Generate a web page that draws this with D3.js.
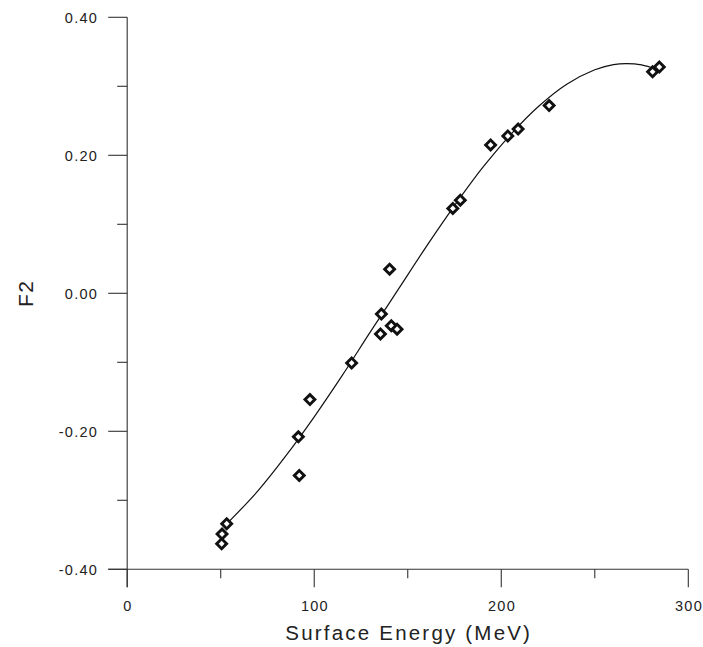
<!DOCTYPE html>
<html>
<head>
<meta charset="utf-8">
<script src="https://cdn.jsdelivr.net/npm/d3@7"></script>
<style>
  html, body { margin: 0; padding: 0; background: #fff; }
  svg { display: block; }
  text { font-family: "Liberation Sans", Arial, sans-serif; fill: #222; }
</style>
</head>
<body>
<svg id="chart" width="703" height="647"></svg>
<script>
// Observed samples: surface energy (MeV) and F2 score
const energy = [50.7, 50.5, 53.2, 91.5, 92.0, 97.7, 120.0, 135.9, 135.4, 140.3, 141.2, 144.3,
                174.1, 178.1, 194.3, 203.5, 209.0, 225.6, 280.9, 284.5];
const f2 = [-0.349, -0.363, -0.334, -0.208, -0.264, -0.154, -0.101, -0.030, -0.059, 0.035, -0.047, -0.052,
            0.123, 0.135, 0.215, 0.228, 0.238, 0.272, 0.321, 0.328];

// Fitted trend line, sampled along its length
const fitEnergy = [54, 70, 85, 100, 115, 130, 145, 160, 175, 190, 205, 220, 235, 250, 260, 267, 275, 283];
const fitF2 = [-0.332, -0.286, -0.235, -0.179, -0.119, -0.056, 0.006, 0.068, 0.127, 0.182, 0.230, 0.271,
               0.303, 0.324, 0.3315, 0.333, 0.331, 0.3245];

const xMajor = [0, 100, 200, 300];
const xMinor = [50, 150, 250];
const yMajor = [0.40, 0.20, 0.00, -0.20, -0.40];
const yMinor = [0.30, 0.10, -0.10, -0.30];
const yLabels = ["0.40", "0.20", "0.00", "-0.20", "-0.40"];

const svg = d3.select("#chart");
const x = d3.scaleLinear().domain([0, 300]).range([127.2, 688.3]);
const y = d3.scaleLinear().domain([-0.40, 0.40]).range([569.3, 17.3]);

const axisColor = "#333";

// y axis: major ticks labelled, minor ticks shorter
const yAxis = svg.append("g").attr("transform", `translate(${x(0)},0)`);
yAxis.append("line").attr("x1", 0).attr("x2", 0).attr("y1", y(0.40)).attr("y2", y(-0.40) + 18)
  .attr("stroke", axisColor).attr("stroke-width", 1.1);
yAxis.selectAll(".ymaj").data(yMajor).join("line")
  .attr("x1", -19).attr("x2", 0).attr("y1", d => y(d)).attr("y2", d => y(d))
  .attr("stroke", axisColor).attr("stroke-width", 1.1);
yAxis.selectAll(".ymin").data(yMinor).join("line")
  .attr("x1", -10).attr("x2", 0).attr("y1", d => y(d)).attr("y2", d => y(d))
  .attr("stroke", axisColor).attr("stroke-width", 1.1);
yAxis.selectAll(".ylab").data(yMajor).join("text")
  .attr("x", -29).attr("y", (d) => y(d) + 6)
  .attr("text-anchor", "end")
  .style("font-size", "14.5px").style("letter-spacing", "1.3px")
  .text((d, i) => yLabels[i]);

// x axis
const xAxis = svg.append("g").attr("transform", `translate(0,${y(-0.40)})`);
xAxis.append("line").attr("x1", x(0) - 19).attr("x2", x(300)).attr("y1", 0).attr("y2", 0)
  .attr("stroke", axisColor).attr("stroke-width", 1.1);
xAxis.selectAll(".xmaj").data(xMajor).join("line")
  .attr("x1", d => x(d)).attr("x2", d => x(d)).attr("y1", 0).attr("y2", 18)
  .attr("stroke", axisColor).attr("stroke-width", 1.1);
xAxis.selectAll(".xmin").data(xMinor).join("line")
  .attr("x1", d => x(d)).attr("x2", d => x(d)).attr("y1", 0).attr("y2", 9)
  .attr("stroke", axisColor).attr("stroke-width", 1.1);
xAxis.selectAll(".xlab").data(xMajor).join("text")
  .attr("x", d => x(d) + 0.7).attr("y", 42)
  .attr("text-anchor", "middle")
  .style("font-size", "14.5px").style("letter-spacing", "1.3px")
  .text(d => d3.format("d")(d));

// axis titles
svg.append("text")
  .attr("x", (x(0) + x(300)) / 2 + 1).attr("y", 640)
  .attr("text-anchor", "middle")
  .style("font-size", "20.5px").style("letter-spacing", "2.2px")
  .text("Surface Energy (MeV)");
svg.append("text")
  .attr("transform", `translate(33,${y(0)}) rotate(-90)`)
  .attr("text-anchor", "middle")
  .style("font-size", "21px").style("letter-spacing", "1.5px")
  .text("F2");

// trend curve
const fit = fitEnergy.map((e, i) => [e, fitF2[i]]);
svg.append("path")
  .datum(fit)
  .attr("fill", "none").attr("stroke", "#111").attr("stroke-width", 1.2)
  .attr("d", d3.line().x(d => x(d[0])).y(d => y(d[1])).curve(d3.curveCatmullRom.alpha(0.5)));

// diamond markers
const pts = energy.map((e, i) => [e, f2[i]]);
const sq = d3.symbol(d3.symbolSquare, 49);
svg.selectAll(".pt").data(pts).join("path")
  .attr("d", sq)
  .attr("transform", d => `translate(${x(d[0])},${y(d[1])}) rotate(45)`)
  .attr("fill", "#fff").attr("stroke", "#111").attr("stroke-width", 2.9);
</script>
</body>
</html>
